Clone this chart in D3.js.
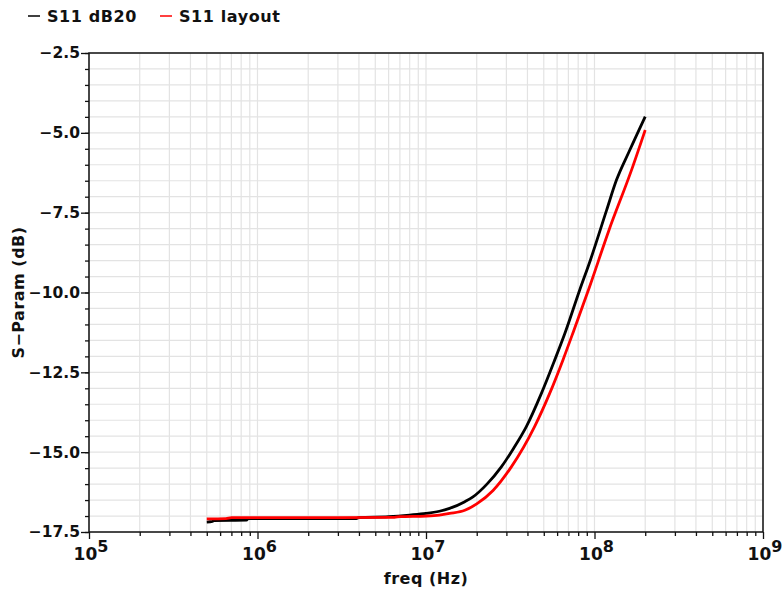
<!DOCTYPE html>
<html>
<head>
<meta charset="utf-8">
<script src="https://cdn.jsdelivr.net/npm/d3@7"></script>
<style>
  body { margin: 0; background: #fff; }
  text { font-family: "DejaVu Sans", sans-serif; font-weight: bold; fill: #111; }
</style>
</head>
<body>
<div id="chart"></div>
<script>
// S11 dB20 (black) - freq in Hz, value in dB
var freqDb20 = [5e5, 5.4e5, 5.5e5, 8.6e5, 8.8e5, 2e6, 3.86e6, 4e6, 6e6, 8e6, 1e7, 1.2e7, 1.38e7, 1.7e7, 1.9e7, 2.3e7, 2.8e7, 3.3e7, 3.94e7, 4.84e7, 5.81e7, 6.65e7, 8.17e7, 9.46e7, 1.18e8, 1.35e8, 1.6e8, 2e8];
var s11Db20  = [-17.19, -17.17, -17.14, -17.13, -17.08, -17.08, -17.08, -17.05, -17.02, -16.97, -16.92, -16.85, -16.76, -16.55, -16.4, -16.0, -15.46, -14.89, -14.2, -13.16, -12.11, -11.3, -9.92, -8.98, -7.42, -6.48, -5.6, -4.49];

// S11 layout (red)
var freqLayout = [5e5, 6.5e5, 7e5, 1e6, 3e6, 6.5e6, 7e6, 1e7, 1.2e7, 1.38e7, 1.7e7, 2e7, 2.5e7, 3.21e7, 4.41e7, 5.42e7, 6.5e7, 7.55e7, 9.35e7, 1.22e8, 1.66e8, 2e8];
var s11Layout  = [-17.09, -17.08, -17.05, -17.05, -17.05, -17.04, -17.02, -17.0, -16.97, -16.92, -16.82, -16.62, -16.2, -15.46, -14.2, -13.16, -12.11, -11.18, -9.82, -8.04, -6.16, -4.91];

var yMajorTicks = [-17.5, -15.0, -12.5, -10.0, -7.5, -5.0, -2.5];
var xDecades = [1e5, 1e6, 1e7, 1e8, 1e9];
var legendNames = ['S11 dB20', 'S11 layout'];

var width = 784, height = 594;
var margin = { top: 53, right: 21, bottom: 62, left: 89 };

var svg = d3.select('#chart').append('svg')
  .attr('width', width)
  .attr('height', height);

var x = d3.scaleLog().domain([1e5, 1e9]).range([margin.left, width - margin.right]);
var y = d3.scaleLinear().domain([-17.5, -2.5]).range([height - margin.bottom, margin.top]);

// minor values
var xMinor = [];
xDecades.slice(0, -1).forEach(function(d) {
  for (var k = 2; k <= 9; k++) xMinor.push(d * k);
});
var yMinor = d3.range(-17.5, -2.49, 0.5);

// grid
var grid = svg.append('g').attr('class', 'grid');
grid.selectAll('.vgrid')
  .data(xMinor.concat(xDecades))
 .enter().append('line')
  .attr('x1', function(d) { return x(d); })
  .attr('x2', function(d) { return x(d); })
  .attr('y1', y(-17.5))
  .attr('y2', y(-2.5))
  .style('stroke', '#e3e3e3')
  .style('stroke-width', 1.2);
grid.selectAll('.hgrid')
  .data(yMinor)
 .enter().append('line')
  .attr('y1', function(d) { return y(d); })
  .attr('y2', function(d) { return y(d); })
  .attr('x1', x(1e5))
  .attr('x2', x(1e9))
  .style('stroke', '#e3e3e3')
  .style('stroke-width', 1.2);

// curves
var line = d3.line()
  .curve(d3.curveMonotoneX)
  .x(function(d) { return x(d[0]); })
  .y(function(d) { return y(d[1]); });

svg.append('path')
  .datum(d3.zip(freqDb20, s11Db20))
  .attr('d', line)
  .style('fill', 'none')
  .style('stroke', '#000')
  .style('stroke-width', 2.8);

svg.append('path')
  .datum(d3.zip(freqLayout, s11Layout))
  .attr('d', line)
  .style('fill', 'none')
  .style('stroke', '#ff0000')
  .style('stroke-width', 2.8);

// frame
svg.append('rect')
  .attr('x', x(1e5))
  .attr('y', y(-2.5))
  .attr('width', x(1e9) - x(1e5))
  .attr('height', y(-17.5) - y(-2.5))
  .style('fill', 'none')
  .style('stroke', '#111')
  .style('stroke-width', 1.5);

// y axis
var fmt = function(d) { return d3.format('.1f')(d).replace('-', '\u2212'); };
var yAxis = svg.append('g')
  .attr('transform', 'translate(' + x(1e5) + ',0)')
  .call(d3.axisLeft(y).tickValues(yMajorTicks).tickSize(8).tickFormat(fmt));
svg.append('g')
  .attr('transform', 'translate(' + x(1e5) + ',0)')
  .call(d3.axisLeft(y).tickValues(yMinor).tickSize(4).tickFormat(''));

// x axis
svg.append('g')
  .attr('transform', 'translate(0,' + y(-17.5) + ')')
  .call(d3.axisBottom(x).tickValues(xDecades).tickSize(7).tickFormat(''));
svg.append('g')
  .attr('transform', 'translate(0,' + y(-17.5) + ')')
  .call(d3.axisBottom(x).tickValues(xMinor).tickSize(4).tickFormat(''));

svg.selectAll('.domain').remove();
svg.selectAll('.tick line').style('stroke', '#111').style('stroke-width', 1.3);
yAxis.selectAll('text')
  .style('font-size', '15.5px')
  .style('font-family', '"DejaVu Sans", sans-serif')
  .style('font-weight', 'bold')
  .style('fill', '#111')
  .attr('x', -9);

// decade labels 10^n
var decLabels = svg.append('g').selectAll('text')
  .data(xDecades)
 .enter().append('text')
  .attr('x', function(d) { return x(d) + 2; })
  .attr('y', 560)
  .style('font-size', '17px')
  .attr('text-anchor', 'middle');
decLabels.append('tspan').text('10');
decLabels.append('tspan')
  .attr('dy', -8)
  .style('font-size', '16px')
  .text(function(d) { return Math.round(Math.log10(d)); });

// axis titles
svg.append('text')
  .attr('x', (x(1e5) + x(1e9)) / 2)
  .attr('y', 584)
  .attr('text-anchor', 'middle')
  .style('font-size', '16px')
  .style('letter-spacing', '0.5px')
  .text('freq (Hz)');

svg.append('text')
  .attr('transform', 'translate(24,' + (y(-10)) + ') rotate(-90)')
  .attr('text-anchor', 'middle')
  .style('font-size', '16px')
  .style('letter-spacing', '0.5px')
  .text('S\u2212Param (dB)');

// legend
var legend = svg.selectAll('.legend')
  .data(legendNames)
 .enter().append('g')
  .attr('class', 'legend')
  .attr('transform', function(d, i) { return 'translate(' + (28 + i * 132) + ',16)'; });
legend.append('line')
  .attr('x1', 0).attr('x2', 12)
  .style('stroke', function(d, i) { return i === 0 ? '#000' : '#ff0000'; })
  .style('stroke-width', 1.5);
legend.append('text')
  .attr('x', 19)
  .attr('y', 6)
  .style('font-size', '16px')
  .style('letter-spacing', '0.6px')
  .text(function(d) { return d; });
</script>
</body>
</html>
